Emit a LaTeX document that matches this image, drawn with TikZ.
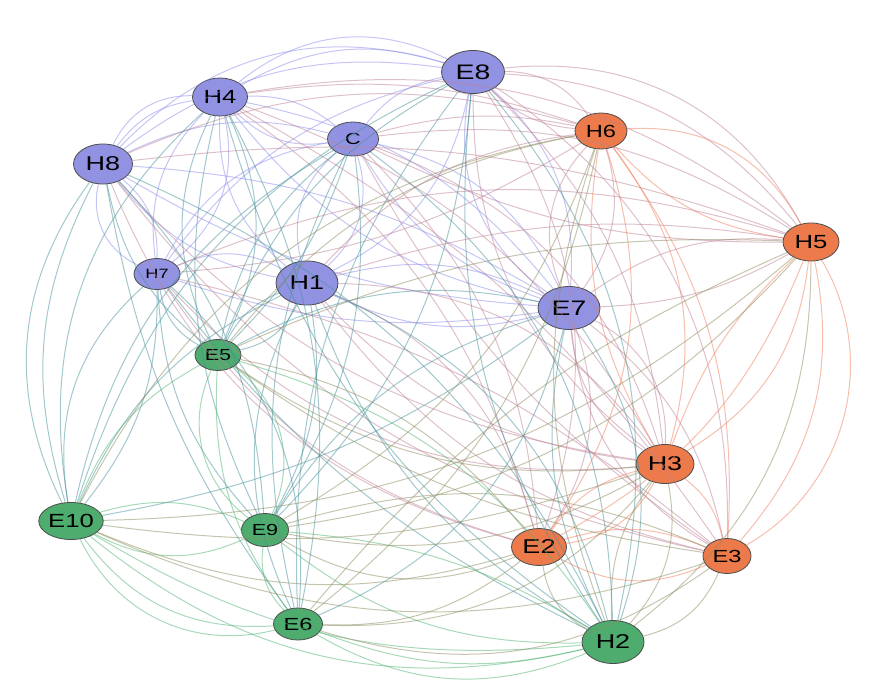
\documentclass[tikz,border=0pt]{standalone}
\usepackage{fontspec}
\newfontfamily\nodefont{Liberation Sans}[FakeStretch=1.35]
\usetikzlibrary{shapes.geometric,calc}

\definecolor{nodeblue}{RGB}{146,146,226}
\definecolor{nodeorange}{RGB}{236,122,74}
\definecolor{nodegreen}{RGB}{78,172,110}
\definecolor{linkbb}{RGB}{140,140,235}
\definecolor{linkbo}{RGB}{190,130,150}
\definecolor{linkbg}{RGB}{70,145,155}
\definecolor{linkgo}{RGB}{140,140,95}
\definecolor{linkgg}{RGB}{80,180,115}
\definecolor{linkoo}{RGB}{240,125,90}

\tikzset{
  vertex/.style={ellipse, draw=black!70, line width=0.8pt, inner sep=0pt},
  link/.style={line width=1pt, draw opacity=0.5},
}

% curved links, k>0 bows away from the middle of the picture
\newcommand\linkset[2]{%
  \foreach \a/\b/\k in {#2} {
    \draw[link,#1] let \p1=(\a.center), \p2=(\b.center),
      \n1={1.3*\k*(1-2*((((\x2-\x1)/100)*((-360-\y1)/100)-((\y2-\y1)/100)*((445-\x1)/100))>0))},
      \n2={180-(\n1)} in
      (\a) to[out=\n1,in=\n2,relative] (\b);
  }%
}

\begin{document}
\begin{tikzpicture}[x=1pt,y=-1pt]
\useasboundingbox (0,0) rectangle (890,696);

% blue group
\node[vertex, fill=nodeblue, minimum width=63pt, minimum height=43pt, font=\nodefont\fontsize{21}{21}\selectfont] (e8) at (473,72) {E8};
\node[vertex, fill=nodeblue, minimum width=55pt, minimum height=38pt, font=\nodefont\fontsize{19}{19}\selectfont] (h4) at (220,97) {H4};
\node[vertex, fill=nodeblue, minimum width=51pt, minimum height=34pt, font=\nodefont\fontsize{16}{16}\selectfont] (c) at (353,139) {C};
\node[vertex, fill=nodeblue, minimum width=59pt, minimum height=40pt, font=\nodefont\fontsize{20}{20}\selectfont] (h8) at (103,164) {H8};
\node[vertex, fill=nodeblue, minimum width=46pt, minimum height=31pt, font=\nodefont\fontsize{13.5}{14}\selectfont] (h7) at (157,274) {H7};
\node[vertex, fill=nodeblue, minimum width=62pt, minimum height=44pt, font=\nodefont\fontsize{20}{20}\selectfont] (h1) at (307,283) {H1};
\node[vertex, fill=nodeblue, minimum width=62pt, minimum height=43pt, font=\nodefont\fontsize{21}{21}\selectfont] (e7) at (569,308) {E7};

% orange group
\node[vertex, fill=nodeorange, minimum width=52pt, minimum height=36pt, font=\nodefont\fontsize{17.5}{18}\selectfont] (h6) at (601,131) {H6};
\node[vertex, fill=nodeorange, minimum width=56pt, minimum height=38pt, font=\nodefont\fontsize{19}{19}\selectfont] (h5) at (811,242) {H5};
\node[vertex, fill=nodeorange, minimum width=58pt, minimum height=39pt, font=\nodefont\fontsize{20}{20}\selectfont] (h3) at (665,464) {H3};
\node[vertex, fill=nodeorange, minimum width=55pt, minimum height=37pt, font=\nodefont\fontsize{20}{20}\selectfont] (e2) at (539,547) {E2};
\node[vertex, fill=nodeorange, minimum width=48pt, minimum height=35pt, font=\nodefont\fontsize{17.5}{18}\selectfont] (e3) at (727,556) {E3};

% green group
\node[vertex, fill=nodegreen, minimum width=46pt, minimum height=31pt, font=\nodefont\fontsize{16}{16}\selectfont] (e5) at (218,355) {E5};
\node[vertex, fill=nodegreen, minimum width=52pt, minimum height=37pt, font=\nodefont\fontsize{19}{19}\selectfont] (e10) at (71,521) {E10};
\node[vertex, fill=nodegreen, minimum width=47pt, minimum height=33pt, font=\nodefont\fontsize{16}{16}\selectfont] (e9) at (265,530) {E9};
\node[vertex, fill=nodegreen, minimum width=49pt, minimum height=32pt, font=\nodefont\fontsize{17.5}{18}\selectfont] (e6) at (298,624) {E6};
\node[vertex, fill=nodegreen, minimum width=62pt, minimum height=43pt, font=\nodefont\fontsize{20}{20}\selectfont] (h2) at (613,642) {H2};

% blue - blue
\linkset{linkbb}{e8/h4/18, e8/h4/25, e8/c/15, e8/h8/24, e8/h8/17, e8/h7/15, e8/h1/-20, e8/e7/20, e8/e7/-25,
  h4/c/15, h4/c/-20, h4/h8/25, h4/h8/17, h4/h7/20, h4/h7/-25, h4/h1/20, h4/e7/-15, h4/e7/15,
  c/h8/15, c/h7/20, c/h1/25, c/h1/-25, c/e7/20, c/e7/-15, h8/h7/30, h8/h7/-20, h8/h1/15, h8/e7/10, h8/e7/-10,
  h7/h1/20, h7/e7/-10, h1/e7/15, h1/e7/-15}
% blue - orange
\linkset{linkbo}{e8/h6/20, e8/h6/-15, e8/h5/26, e8/h5/18, e8/h3/15, e8/h3/-20, e8/e2/20, e8/e3/22,
  h4/h6/10, h4/h5/18, h4/h3/15, h4/e2/-15, h4/e3/10, c/h6/10, c/h5/15, c/h5/-10, c/h3/20, c/e2/15, c/e3/-10,
  h8/h6/15, h8/h5/10, h8/h3/-15, h8/e2/20, h8/e3/15, h7/h6/-10, h7/h5/15, h7/h3/20, h7/e2/15, h7/e3/-10,
  h1/h6/15, h1/h5/10, h1/h3/20, h1/h3/-15, h1/e2/-20, h1/e3/15,
  e7/h6/20, e7/h6/-25, e7/h5/15, e7/h5/-10, e7/h3/25, e7/h3/-20, e7/e2/20, e7/e3/15, e7/e3/-20}
% blue - green
\linkset{linkbg}{e8/e5/15, e8/e10/18, e8/e9/-15, e8/e6/15, e8/h2/20, e8/h2/-15,
  h4/e5/20, h4/e5/-20, h4/e10/22, h4/e9/15, h4/e6/-15, h4/h2/15, c/e5/15, c/e5/-10, c/e10/18, c/e9/-15, c/e6/15, c/h2/20,
  h8/e5/15, h8/e10/24, h8/e10/17, h8/e9/-15, h8/e6/10, h8/h2/-15, h7/e5/20, h7/e10/22, h7/e10/-15, h7/e9/15, h7/e6/-20, h7/h2/10,
  h1/e5/15, h1/e5/-20, h1/e10/15, h1/e9/-15, h1/e6/20, h1/h2/-20, h1/h2/15,
  e7/e5/15, e7/e10/10, e7/e9/-15, e7/e6/20, e7/h2/20, e7/h2/-15}
% orange - orange
\linkset{linkoo}{h6/h5/25, h6/h5/-15, h6/h3/20, h6/h3/-15, h6/e2/20, h6/e3/15, h5/h3/20, h5/h3/-10,
  h5/e2/15, h5/e3/35, h5/e3/20, h3/e2/20, h3/e2/-15, h3/e3/15, e2/e3/20, e2/e3/-15}
% green - green
\linkset{linkgg}{e5/e10/15, e5/e9/30, e5/e9/-30, e5/e6/15, e5/h2/-15, e10/e9/20, e10/e9/-15, e10/e6/22, e10/e6/30,
  e10/h2/20, e10/h2/14, e9/e6/20, e9/h2/15, e9/h2/-10, e6/h2/20, e6/h2/13}
% green - orange
\linkset{linkgo}{e5/h6/15, e5/h5/10, e5/h3/15, e5/e2/-15, e5/e3/10, e10/h6/20, e10/h5/15, e10/h3/10, e10/e2/15, e10/e3/16,
  e9/h6/-15, e9/h5/15, e9/h3/15, e9/e2/20, e9/e3/-15, e6/h6/15, e6/h5/-10, e6/h3/20, e6/e2/15, e6/e3/20,
  h2/h6/-15, h2/h5/20, h2/h3/20, h2/h3/-15, h2/e2/20, h2/e3/20}
\end{tikzpicture}
\end{document}
